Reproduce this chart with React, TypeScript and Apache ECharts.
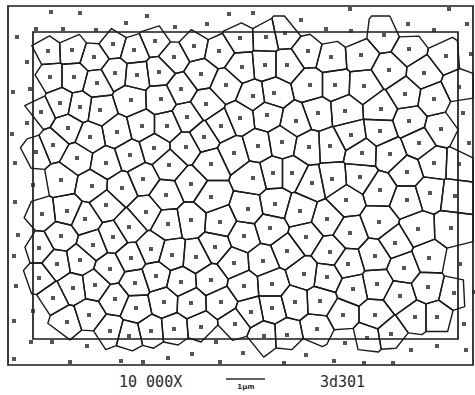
import React, { useEffect, useRef } from "react";
import * as echarts from "echarts";

// Cell sites (inside the counting frame) – each gets a Voronoi cell
const cellSites: [number, number][] = [
  [48, 51], [72, 50], [94, 57], [113, 44], [50, 77], [74, 77], [97, 83], [115, 73], [60, 103], [80, 107], [41, 112], [100, 110],
  [155, 41], [134, 50], [194, 46], [219, 51], [174, 57], [137, 75], [159, 72], [201, 74], [226, 85], [181, 89], [131, 100], [161, 99], [206, 104], [187, 117],
  [240, 38], [266, 37], [285, 33], [308, 51], [331, 57], [242, 67], [265, 65], [287, 65], [310, 85], [335, 85], [253, 96], [274, 93], [267, 115], [296, 121], [318, 113], [345, 111], [240, 118],
  [384, 35], [409, 49], [446, 56], [361, 55], [389, 70], [424, 73], [364, 86], [459, 87], [405, 94], [434, 99], [381, 109], [409, 121],
  [68, 128], [90, 137], [117, 132], [53, 145], [36, 152], [77, 158], [106, 163], [61, 180], [92, 186], [106, 205], [42, 214], [67, 211], [85, 219], [61, 236], [113, 237],
  [142, 126], [167, 126], [221, 126], [204, 137], [154, 148], [186, 147], [130, 155], [234, 153], [169, 165], [211, 164], [143, 179], [191, 184], [122, 188], [166, 195], [211, 197], [146, 212], [191, 220], [220, 222], [129, 227], [168, 224],
  [258, 146], [282, 142], [309, 147], [330, 146], [351, 135], [253, 178], [273, 173], [292, 173], [312, 183], [332, 179], [248, 209], [275, 204], [300, 211], [327, 219], [346, 200], [270, 228], [244, 236], [306, 237], [350, 233],
  [380, 131], [441, 129], [362, 153], [390, 154], [419, 143], [434, 163], [459, 164], [360, 177], [407, 172], [380, 190], [430, 193], [455, 196], [407, 200], [379, 222], [418, 229], [451, 228],
  [39, 248], [57, 264], [80, 260], [93, 245], [110, 269], [39, 278], [73, 288], [95, 285], [53, 298], [115, 299], [67, 322], [89, 315], [110, 331],
  [151, 249], [172, 255], [196, 257], [215, 247], [131, 258], [234, 263], [135, 283], [156, 276], [181, 282], [211, 280], [136, 308], [164, 302], [191, 303], [221, 302], [129, 336], [151, 331], [174, 329], [201, 327], [235, 324],
  [287, 251], [263, 261], [330, 252], [348, 264], [304, 274], [327, 277], [244, 286], [272, 284], [353, 289], [295, 302], [320, 301], [251, 312], [272, 308], [343, 315], [264, 336], [287, 335], [317, 329],
  [395, 243], [375, 256], [429, 258], [404, 268], [377, 284], [400, 296], [428, 287], [454, 293], [375, 315], [415, 317], [437, 317], [367, 338], [391, 334],
];

// Dots in the guard zone around the frame – no cell drawn
const outerDots: [number, number][] = [
  [51, 12], [80, 13], [17, 37], [36, 29], [63, 29], [96, 30], [27, 62], [13, 92], [30, 89],
  [147, 16], [229, 14], [126, 23], [175, 27], [207, 24],
  [253, 13], [350, 9], [301, 20], [326, 29], [351, 31],
  [449, 9], [408, 24], [434, 30], [467, 24], [471, 54], [463, 113], [469, 143],
  [27, 123], [12, 134], [15, 163], [33, 185], [15, 202], [18, 235],
  [14, 256], [16, 286], [33, 311], [14, 321], [31, 342], [52, 342], [87, 346], [14, 359], [70, 362],
  [216, 342], [121, 361], [143, 362], [168, 358], [192, 354], [220, 362],
  [243, 353], [306, 355], [345, 343], [284, 363], [334, 361],
  [460, 264], [474, 292], [464, 324], [411, 350], [437, 346], [466, 350], [364, 363], [393, 363],
];

const magnification = "10 000X";
const specimen = "3d301";
const scaleLabel = "1µm";

type P = [number, number];

function clipHalf(poly: P[], a: number, b: number, c: number): P[] {
  const out: P[] = [];
  const n = poly.length;
  for (let i = 0; i < n; i++) {
    const p = poly[i];
    const q = poly[(i + 1) % n];
    const fp = a * p[0] + b * p[1] - c;
    const fq = a * q[0] + b * q[1] - c;
    if (fp <= 0) out.push(p);
    if ((fp < 0 && fq > 0) || (fp > 0 && fq < 0)) {
      const t = fp / (fp - fq);
      out.push([p[0] + t * (q[0] - p[0]), p[1] + t * (q[1] - p[1])]);
    }
  }
  return out;
}

function voronoiCells(sites: P[], others: P[]): P[][] {
  const all = sites.concat(others);
  return sites.map((s) => {
    let poly: P[] = [[18, 16], [473, 16], [473, 362], [18, 362]];
    for (const o of all) {
      if (o === s || (o[0] === s[0] && o[1] === s[1])) continue;
      const a = 2 * (o[0] - s[0]);
      const b = 2 * (o[1] - s[1]);
      const c = o[0] * o[0] + o[1] * o[1] - s[0] * s[0] - s[1] * s[1];
      poly = clipHalf(poly, a, b, c);
      if (poly.length === 0) break;
    }
    return poly;
  });
}

export default function App() {
  const ref = useRef<HTMLDivElement>(null);
  useEffect(() => {
    if (!ref.current) return;
    const chart = echarts.init(ref.current, undefined, { renderer: "svg" });
    const cells = voronoiCells(cellSites, outerDots);
    const ink = "#1a1a1a";
    chart.setOption({
      animation: false,
      backgroundColor: "#ffffff",
      grid: { left: 0, right: 0, top: 0, bottom: 0 },
      xAxis: { type: "value", min: 0, max: 475, show: false },
      yAxis: { type: "value", min: 0, max: 395, inverse: true, show: false },
      series: [
        {
          type: "custom",
          silent: true,
          data: cellSites.map((p, i) => [p[0], p[1], i]),
          renderItem: (params: any, api: any) => {
            const idx = api.value(2);
            const poly = cells[idx];
            return {
              type: "polygon",
              shape: { points: poly.map((p) => api.coord(p)) },
              style: { fill: "none", stroke: ink, lineWidth: 1.4, lineJoin: "round" },
            };
          },
        },
        {
          type: "scatter",
          silent: true,
          symbol: "rect",
          symbolSize: 4,
          itemStyle: { color: "#2b2b2b" },
          data: cellSites.concat(outerDots),
        },
      ],
      graphic: [
        { type: "rect", shape: { x: 8, y: 6, width: 465, height: 359 }, style: { fill: "none", stroke: ink, lineWidth: 1.7 }, silent: true },
        { type: "rect", shape: { x: 33, y: 32, width: 425, height: 307 }, style: { fill: "none", stroke: ink, lineWidth: 1.7 }, silent: true },
        { type: "text", x: 119, y: 374, style: { text: magnification, font: "15px 'DejaVu Sans Mono'", fill: "#2a2a2a" }, silent: true },
        { type: "line", shape: { x1: 226, y1: 379, x2: 265, y2: 379 }, style: { stroke: "#2a2a2a", lineWidth: 1.5 }, silent: true },
        { type: "text", x: 246, y: 383, style: { text: scaleLabel, font: "bold 7px 'DejaVu Sans'", fill: "#2a2a2a", align: "center" }, silent: true },
        { type: "text", x: 320, y: 374, style: { text: specimen, font: "15px 'DejaVu Sans Mono'", fill: "#2a2a2a" }, silent: true },
      ],
    });
    return () => chart.dispose();
  }, []);
  return <div ref={ref} style={{ position: "fixed", left: 0, top: 0, width: 475, height: 395 }} />;
}
